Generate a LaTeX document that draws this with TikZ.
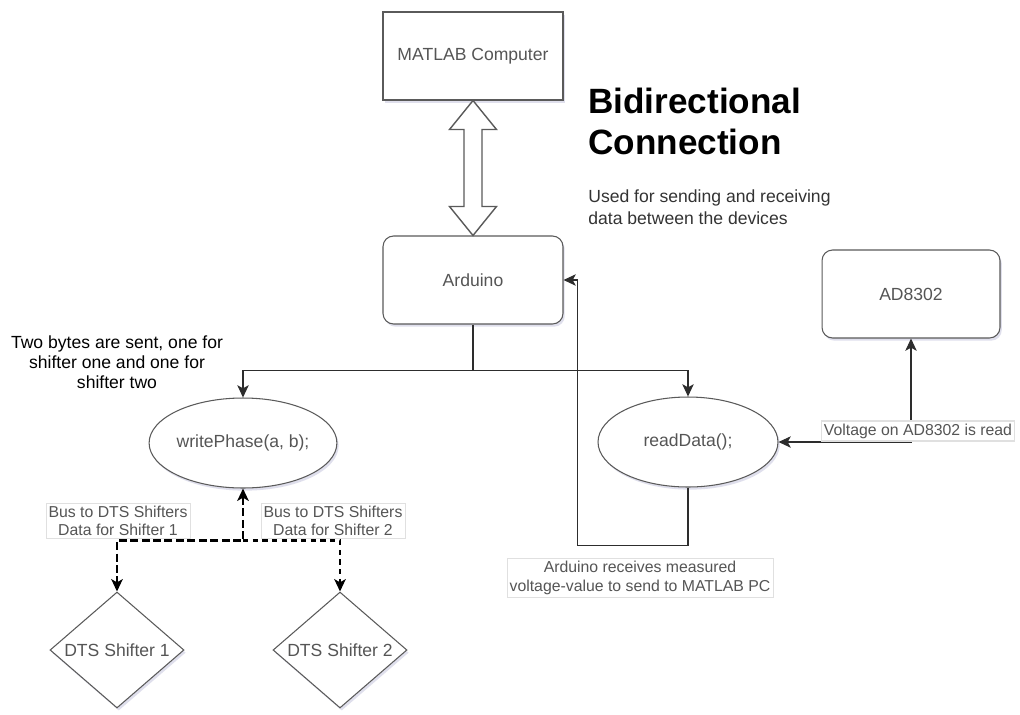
\documentclass[tikz,border=0pt]{standalone}
\usepackage{fontspec}
\setmainfont{Liberation Sans}
\usetikzlibrary{shapes.geometric, arrows.meta, positioning, calc, shadows}
\definecolor{edgegray}{RGB}{45,45,45}
\definecolor{boxgray}{RGB}{90,90,90}
\definecolor{textgray}{RGB}{85,85,85}
\definecolor{shadowblue}{RGB}{150,150,195}

\tikzset{
  softshadow/.style={drop shadow={shadow xshift=1pt, shadow yshift=-1.5pt, fill=shadowblue, opacity=0.3}},
  sysbox/.style={draw=boxgray, line width=0.6pt, fill=white, minimum width=3.6cm, minimum height=1.76cm,
    text=textgray, font=\fontsize{10}{12}\selectfont, softshadow},
  funcell/.style={ellipse, draw=boxgray, line width=0.6pt, fill=white, minimum width=3.6cm, minimum height=1.8cm,
    inner sep=0pt, text=textgray, font=\fontsize{10}{12}\selectfont, softshadow},
  shifter/.style={diamond, draw=boxgray, line width=0.6pt, fill=white, minimum width=2.68cm, minimum height=2.32cm,
    inner sep=0pt, text=textgray, font=\fontsize{10}{12}\selectfont, softshadow},
  dblarrow/.style={draw=boxgray, line width=0.8pt, fill=white, line join=miter},
  link/.style={draw=edgegray, line width=0.6pt},
  buslink/.style={draw=black, line width=1.4pt, dash pattern=on 4.5pt off 2pt},
  tag/.style={fill=white, draw=black!12, text=textgray, font=\fontsize{9}{10.5}\selectfont, align=center, inner sep=1.5pt},
  headline/.style={font=\fontsize{20}{23}\selectfont\bfseries, align=left, inner sep=0pt},
  note/.style={font=\fontsize{10}{12.5}\selectfont, text=black!80, align=left, inner sep=0pt}
}

\begin{document}
\begin{tikzpicture}[x=0.02cm, y=-0.02cm, >={Stealth[length=7pt, width=6.5pt, inset=1.8pt]}]
  \fill[white] (0,0) rectangle (1020,714);
  \useasboundingbox (0,0) rectangle (1020,714);

  % Devices
  \node[sysbox] (matlab) at (473,56) {MATLAB Computer};
  \node[sysbox, rounded corners=6pt] (arduino) at (473,280) {Arduino};
  \node[sysbox, rounded corners=6pt, minimum width=3.56cm] (ad) at (911,294) {AD8302};

  % Functions on the Arduino
  \node[funcell] (write) at (243,443) {writePhase(a, b);};
  \node[funcell] (read) at (688,442) {readData();};

  % Phase shifters
  \node[shifter] (sh1) at (117,650) {\makebox[0pt]{DTS Shifter 1}};
  \node[shifter] (sh2) at (340,650) {\makebox[0pt]{DTS Shifter 2}};

  % Serial link PC <-> Arduino
  \draw[dblarrow] (matlab.south) -- ++(23.5,29) -- ++(-14.5,0) -- ($(arduino.north)+(9,-29)$) -- ++(14.5,0)
    -- (arduino.north) -- ++(-23.5,-29) -- ++(14.5,0) -- ($(matlab.south)+(-9,29)$) -- ++(-14.5,0) -- cycle;

  \node[headline, anchor=north west] (title) at (588,88) {Bidirectional\\Connection};
  \node[note, anchor=north west] (sub) at (588,189) {Used for sending and receiving\\data between the devices};
  \node[font=\fontsize{10}{11.5}\selectfont, align=center] (bytes) at (117,362) {Two bytes are sent, one for\\shifter one and one for\\shifter two};

  % Arduino calls
  \coordinate (split) at ($(arduino.south)+(0,46)$);
  \draw[link] (arduino.south) -- (split);
  \draw[link, ->] (split) -| (write.north);
  \draw[link, ->] (split) -| (read.north);

  % Measured value back to Arduino
  \coordinate (ret) at ($(arduino.east)+(14,0)$);
  \draw[link, ->] (read.south) -- ++(0,58) -| (ret) -- (arduino.east);
  \node[tag] (recvlbl) at (640,578) {Arduino receives measured\\voltage-value to send to MATLAB PC};

  \draw[link, <->] (read.east) -| (ad.south) node[tag, pos=0.5, shift={(7,-11)}] (adlbl) {Voltage on AD8302 is read};

  % Bus to shifters
  \coordinate (bus) at ($(write.south)+(0,52)$);
  \draw[buslink, <->] (write.south) -- (bus) -| (sh1.north);
  \draw[buslink, dash pattern=on 3pt off 2.5pt, ->] (bus) -| (sh2.north);
  \node[tag] (bus1lbl) at (118,521) {Bus to DTS Shifters\\Data for Shifter 1};
  \node[tag] (bus2lbl) at (333,521) {Bus to DTS Shifters\\Data for Shifter 2};
\end{tikzpicture}
\end{document}
